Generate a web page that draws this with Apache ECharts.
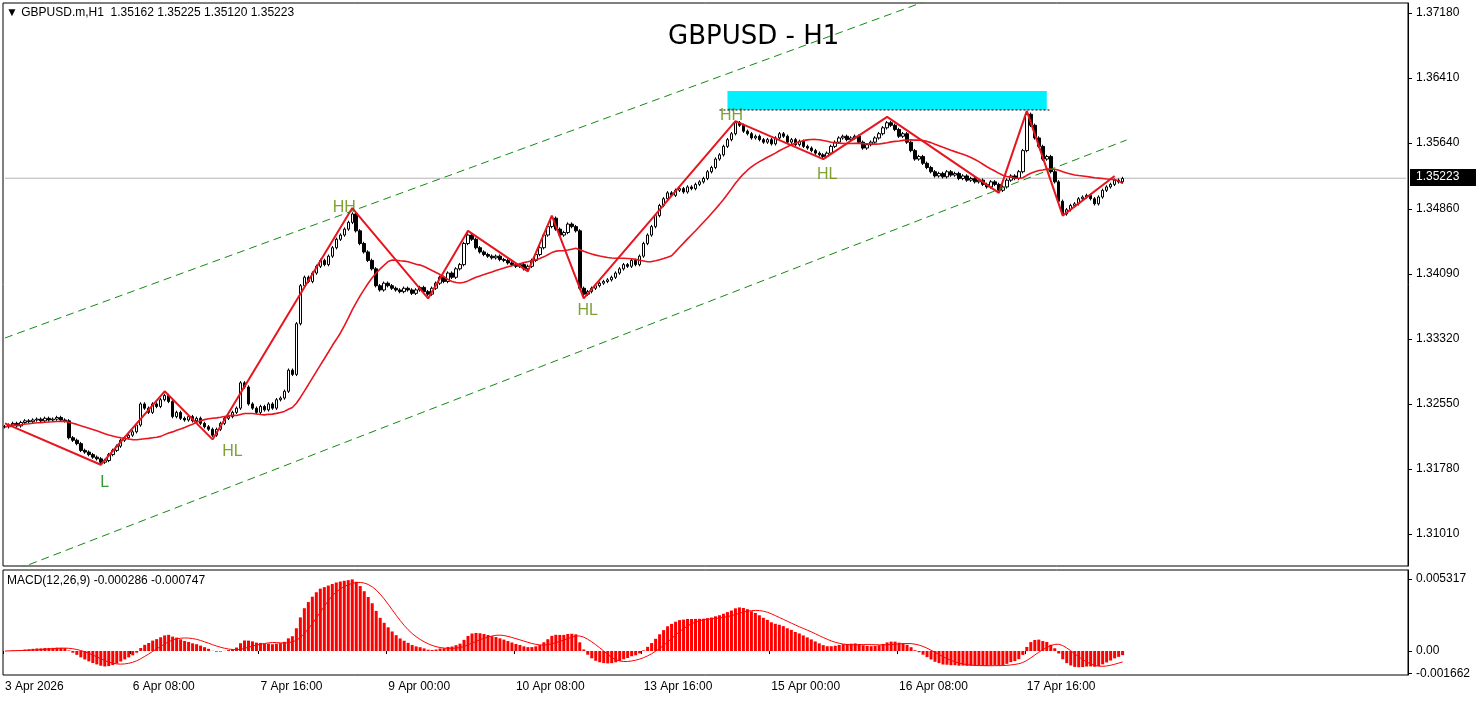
<!DOCTYPE html>
<html>
<head>
<meta charset="utf-8">
<script src="https://cdn.jsdelivr.net/npm/echarts@6/dist/echarts.min.js"></script>
<style>
  html, body { margin: 0; padding: 0; background: #fff; }
  #chart { width: 1484px; height: 703px; }
</style>
</head>
<body>
<div id="chart"></div>
<script>
// closes per H1 bar (bar i sits at x = 3 + 4*i)
const closes = [
  1.3228,1.3230,1.3232,1.3229,1.3233,1.3235,1.3234,1.3236,1.3237,1.3235,1.3238,1.3236,1.3237,1.3239,1.3236,
  1.3235,1.3215,1.3212,1.3208,1.3200,1.3198,1.3195,1.3192,1.3190,1.3186,1.3188,1.3195,1.3200,1.3205,1.3212,
  1.3215,1.3218,1.3222,1.3230,1.3255,1.3250,1.3245,1.3255,1.3252,1.3260,1.3265,1.3258,1.3240,1.3245,1.3238,
  1.3236,1.3240,1.3235,1.3238,1.3232,1.3228,1.3225,1.3218,1.3225,1.3232,1.3238,1.3240,1.3245,1.3250,1.3280,
  1.3275,1.3255,1.3250,1.3245,1.3252,1.3248,1.3255,1.3250,1.3260,1.3262,1.3270,1.3295,1.3290,1.3350,1.3395,
  1.3405,1.3400,1.3410,1.3418,1.3425,1.3420,1.3430,1.3440,1.3450,1.3455,1.3462,1.3470,1.3480,1.3460,1.3445,
  1.3435,1.3425,1.3415,1.3395,1.3390,1.3398,1.3395,1.3392,1.3390,1.3388,1.3392,1.3390,1.3386,1.3390,1.3393,
  1.3388,1.3385,1.3392,1.3398,1.3405,1.3400,1.3410,1.3405,1.3415,1.3420,1.3445,1.3455,1.3450,1.3440,1.3435,
  1.3432,1.3430,1.3428,1.3430,1.3426,1.3425,1.3422,1.3420,1.3418,1.3420,1.3415,1.3418,1.3425,1.3432,1.3440,
  1.3455,1.3465,1.3475,1.3462,1.3455,1.3458,1.3468,1.3465,1.3460,1.3392,1.3385,1.3388,1.3392,1.3395,1.3398,
  1.3400,1.3402,1.3405,1.3410,1.3415,1.3420,1.3418,1.3425,1.3420,1.3430,1.3445,1.3455,1.3465,1.3478,1.3490,
  1.3498,1.3505,1.3502,1.3508,1.3510,1.3506,1.3512,1.3510,1.3515,1.3518,1.3522,1.3530,1.3535,1.3545,1.3550,
  1.3560,1.3568,1.3575,1.3588,1.3585,1.3578,1.3575,1.3570,1.3572,1.3568,1.3565,1.3568,1.3563,1.3570,1.3575,
  1.3572,1.3565,1.3568,1.3562,1.3566,1.3560,1.3558,1.3555,1.3552,1.3550,1.3548,1.3552,1.3560,1.3565,1.3570,
  1.3572,1.3568,1.3570,1.3572,1.3565,1.3558,1.3562,1.3565,1.3570,1.3575,1.3582,1.3588,1.3585,1.3580,1.3572,
  1.3575,1.3565,1.3555,1.3545,1.3548,1.3540,1.3535,1.3530,1.3525,1.3528,1.3524,1.3530,1.3526,1.3528,1.3522,
  1.3525,1.3520,1.3522,1.3518,1.3520,1.3515,1.3512,1.3518,1.3515,1.3508,1.3512,1.3520,1.3525,1.3522,1.3530,
  1.3555,1.3598,1.3585,1.3570,1.3560,1.3545,1.3548,1.3530,1.3518,1.3495,1.3480,1.3485,1.3490,1.3492,1.3498,
  1.3500,1.3502,1.3498,1.3492,1.3500,1.3508,1.3512,1.3515,1.3520,1.3518,1.3522
];
const totalSlots = 352;

// zigzag swing points [barIndex, price]
const zigzag = [
  [0,1.3232],[24,1.3183],[40,1.3270],[52,1.3213],[87,1.3487],[106,1.3380],[116,1.3460],[131,1.3412],
  [137,1.3478],[145,1.3380],[183,1.3590],[205,1.3545],[221,1.3595],[249,1.3505],[256,1.3602],[265,1.3478],[278,1.3525]
];
const swingLabels = [
  { idx: 25, price: 1.3162, text: 'L', color: '#008000' },
  { idx: 57, price: 1.3199, text: 'HL', color: '#5f8a00' },
  { idx: 85, price: 1.3488, text: 'HH', color: '#5f8a00' },
  { idx: 146, price: 1.3365, text: 'HL', color: '#5f8a00' },
  { idx: 182, price: 1.3597, text: 'HH', color: '#5f8a00' },
  { idx: 206, price: 1.3527, text: 'HL', color: '#5f8a00' }
];
const channelUpper = [[0,1.33331],[351,1.39400]];
const channelLower = [[0,1.30537],[281,1.35676]];
const targetZone = { from: 181, to: 261, low: 1.36031, high: 1.36256 };
const lastPrice = 1.35223;

const priceTicks = [1.37180,1.36410,1.35640,1.34860,1.34090,1.33320,1.32550,1.31780,1.31010];
const macdTicks = [0.005317, 0, -0.001662];
const timeLabels = ['3 Apr 2026','6 Apr 08:00','7 Apr 16:00','9 Apr 00:00','10 Apr 08:00',
  '13 Apr 16:00','15 Apr 00:00','16 Apr 08:00','17 Apr 16:00'];
const labelStep = 32;

// candles: open = previous close
const candles = closes.map((c, i) => {
  const o = i === 0 ? c : closes[i - 1];
  return [o, c, Math.min(o, c) - 0.0002, Math.max(o, c) + 0.0002];
});

// indicators
function sma(arr, n) {
  return arr.map((v, i) => {
    const from = Math.max(0, i - n + 1);
    let s = 0;
    for (let k = from; k <= i; k++) s += arr[k];
    return s / (i - from + 1);
  });
}
function ema(arr, n) {
  const a = 2 / (n + 1);
  const out = [];
  arr.forEach((v, i) => out.push(i === 0 ? v : out[i - 1] + a * (v - out[i - 1])));
  return out;
}
const ma = sma(closes, 24).map((v, i) => [i, v]);
const e12 = ema(closes, 12), e26 = ema(closes, 26);
const macd = closes.map((v, i) => e12[i] - e26[i]);
const signal = sma(macd, 9);

const cats = [];
for (let i = 0; i < totalSlots; i++) {
  cats.push(i % labelStep === 0 && timeLabels[i / labelStep] ? timeLabels[i / labelStep] : '');
}

const chart = echarts.init(document.getElementById('chart'));
chart.setOption({
  animation: false,
  textStyle: { fontFamily: 'Liberation Sans, Arial' },
  grid: [
    { left: 3, right: 76, top: 3, height: 563, show: true, borderColor: '#000', borderWidth: 1 },
    { left: 3, right: 76, top: 570, height: 105, show: true, borderColor: '#000', borderWidth: 1 }
  ],
  xAxis: [
    { type: 'category', gridIndex: 0, data: cats, boundaryGap: true,
      axisLine: { show: false }, axisTick: { show: false }, axisLabel: { show: false } },
    { type: 'category', gridIndex: 1, data: cats, boundaryGap: true,
      axisLine: { show: false },
      axisTick: { show: true, interval: i => cats[i] !== '', lineStyle: { color: '#000' }, length: 3 },
      axisLabel: { interval: i => cats[i] !== '', align: 'left', color: '#000', fontSize: 12, margin: 6 } }
  ],
  yAxis: [
    { type: 'value', gridIndex: 0, position: 'right', min: 1.30631, max: 1.37298, splitLine: { show: false },
      axisLine: { show: true, lineStyle: { color: '#000' } },
      axisTick: { show: true, customValues: priceTicks, length: 4 },
      axisLabel: { customValues: priceTicks, formatter: v => v.toFixed(5), color: '#000', fontSize: 12, margin: 8 } },
    { type: 'value', gridIndex: 1, position: 'right', min: -0.00177, max: 0.00598, splitLine: { show: false },
      axisLine: { show: true, lineStyle: { color: '#000' } },
      axisTick: { show: true, customValues: macdTicks, length: 4 },
      axisLabel: { customValues: macdTicks, formatter: v => v === 0 ? '0.00' : v.toFixed(6), color: '#000', fontSize: 12, margin: 8 } }
  ],
  series: [
    { type: 'line', data: [[0, lastPrice], [totalSlots - 1, lastPrice]], showSymbol: false, silent: true,
      lineStyle: { color: '#b4b4b4', width: 1 }, z: 1 },
    { type: 'line', data: [[targetZone.from - 2, targetZone.low], [targetZone.to + 1, targetZone.low]], showSymbol: false,
      silent: true, lineStyle: { color: '#000', width: 1, type: [2, 2] } },
    { type: 'candlestick', data: candles, barWidth: 3,
      itemStyle: { color: '#fff', color0: '#000', borderColor: '#000', borderColor0: '#000', borderWidth: 1 },
      markArea: { silent: true, itemStyle: { color: '#00f0ff' },
        data: [[{ xAxis: targetZone.from, yAxis: targetZone.high }, { xAxis: targetZone.to, yAxis: targetZone.low }]] } },
    { type: 'line', data: ma, showSymbol: false, lineStyle: { color: '#e8141e', width: 1.6 } },
    { type: 'line', data: zigzag, showSymbol: false, lineStyle: { color: '#e8141e', width: 2 } },
    { type: 'line', data: channelUpper, showSymbol: false, lineStyle: { color: '#138a13', width: 1, type: [8, 5] } },
    { type: 'line', data: channelLower, showSymbol: false, lineStyle: { color: '#138a13', width: 1, type: [8, 5] } },
    { type: 'scatter', symbolSize: 0,
      data: swingLabels.map(s => ({ value: [s.idx, s.price], label: { show: true, formatter: s.text, color: s.color, fontSize: 16, position: 'inside' } })) },
    { type: 'bar', xAxisIndex: 1, yAxisIndex: 1, data: macd, barWidth: 3, itemStyle: { color: '#ff0000' } },
    { type: 'line', xAxisIndex: 1, yAxisIndex: 1, data: signal, showSymbol: false, lineStyle: { color: '#ff0000', width: 1 } }
  ],
  graphic: [
    { type: 'text', left: 668, top: 24, style: { text: 'GBPUSD - H1', font: '26px "DejaVu Sans"', fill: '#000' } },
    { type: 'text', left: 6, top: 7, style: { text: '\u25BC GBPUSD.m,H1  1.35162 1.35225 1.35120 1.35223', font: '12px "Liberation Sans"', fill: '#000' } },
    { type: 'text', left: 7, top: 575, style: { text: 'MACD(12,26,9) -0.000286 -0.000747', font: '12px "Liberation Sans"', fill: '#000' } },
    { type: 'rect', left: 1410, top: 169, shape: { width: 66, height: 17 }, style: { fill: '#000' } },
    { type: 'text', left: 1416, top: 171, style: { text: lastPrice.toFixed(5), font: '12px "Liberation Sans"', fill: '#fff' } }
  ]
});
</script>
</body>
</html>
